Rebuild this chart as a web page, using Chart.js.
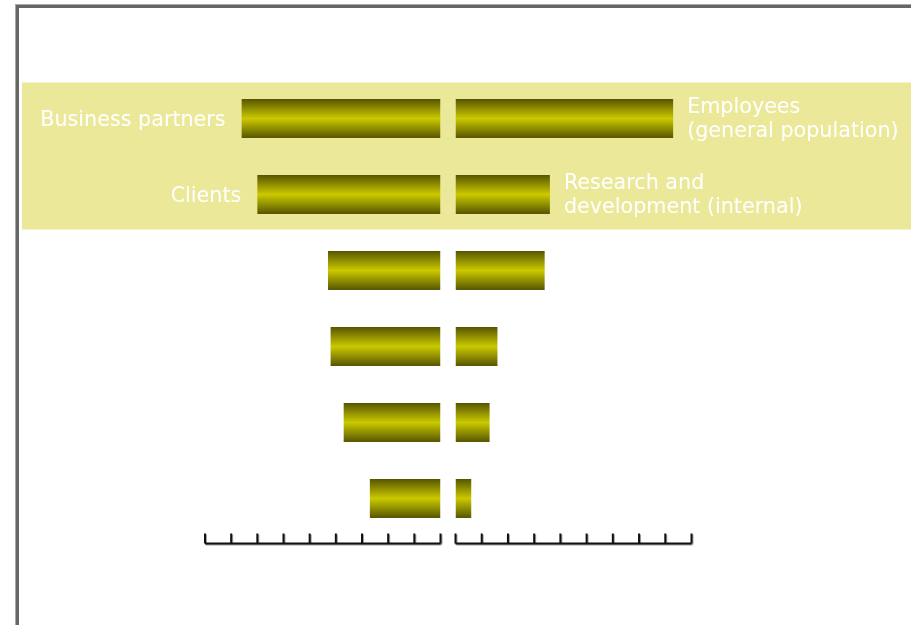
<!DOCTYPE html>
<html>
<head>
<meta charset="utf-8">
<title>Butterfly bars</title>
<script src="https://cdn.jsdelivr.net/npm/chart.js@4.4.1/dist/chart.umd.min.js"></script>
<style>
  html, body { margin: 0; padding: 0; background: #fff; }
  body { width: 911px; height: 625px; position: relative; overflow: hidden; }
  #frame {
    position: absolute; left: 16px; top: 5px; width: 1000px; height: 1000px;
    border-left: 3px solid #666; border-top: 3px solid #666;
    box-shadow: -1px -1px 0 #a8a8a8;
  }
  canvas { position: absolute; left: 0; top: 0; }
</style>
</head>
<body>
<div id="frame"></div>
<canvas id="leftChart" width="911" height="625"></canvas>
<canvas id="rightChart" width="911" height="625"></canvas>
<script>
  // Categories (one per row) and their labels on each side
  const rows = ['r1', 'r2', 'r3', 'r4', 'r5', 'r6'];
  const leftLabels = ['Business partners', 'Clients', '', '', '', ''];
  const rightLabels = [['Employees', '(general population)'], ['Research and', 'development (internal)'], '', '', '', ''];

  // Bar values
  const leftValues = [76, 70, 43, 42, 37, 27];
  const rightValues = [83, 36, 34, 16, 13, 6];

  // Axis range and ruler step
  const axisMax = 90;
  const axisStep = 10;

  // Rows that sit on the highlighted band
  const highlightRows = [0, 1];

  const FONT = '20.7px "DejaVu Sans", Verdana, sans-serif';

  // Olive bar with a bright stripe through the middle
  function barGradient(c) {
    const chart = c.chart;
    if (!chart.chartArea) return '#a09e00';
    const y = chart.scales.y;
    const center = y.getPixelForValue(c.dataIndex);
    const half = (chart.chartArea.bottom - chart.chartArea.top) / rows.length / 4;
    const g = chart.ctx.createLinearGradient(0, center - half, 0, center + half);
    g.addColorStop(0, '#5a5800');
    g.addColorStop(0.5, '#cbc900');
    g.addColorStop(1, '#5a5800');
    return g;
  }

  // Pale band behind the top rows
  const bandPlugin = {
    id: 'band',
    beforeDraw(chart) {
      const ctx = chart.ctx;
      const y = chart.scales.y;
      const step = (chart.chartArea.bottom - chart.chartArea.top) / rows.length;
      const top = y.getPixelForValue(highlightRows[0]) - step / 2 + 2;
      const bottom = y.getPixelForValue(highlightRows[highlightRows.length - 1]) + step / 2 - 3;
      ctx.save();
      ctx.fillStyle = '#ebe999';
      ctx.fillRect(22, top, chart.width - 22, bottom - top);
      ctx.restore();
    }
  };

  // Ruler under the bars, ticks pointing up
  const rulerPlugin = {
    id: 'ruler',
    afterDraw(chart) {
      const ctx = chart.ctx;
      const x = chart.scales.x;
      const base = chart.chartArea.bottom + 7;
      const x0 = x.getPixelForValue(0);
      const x1 = x.getPixelForValue(axisMax);
      const draw = (color, dx, dy) => {
        ctx.strokeStyle = color;
        ctx.lineWidth = 2;
        ctx.beginPath();
        ctx.moveTo(Math.min(x0, x1) + dx, base + dy);
        ctx.lineTo(Math.max(x0, x1) + dx, base + dy);
        x.ticks.forEach(t => {
          const px = x.getPixelForValue(t.value);
          ctx.moveTo(px + dx, base + dy);
          ctx.lineTo(px + dx, base - 10 + dy);
        });
        ctx.stroke();
      };
      ctx.save();
      draw('#a0a0a0', 1, 1);
      draw('#111', 0, 0);
      ctx.restore();
    }
  };

  // Row labels placed just past each bar's outer end
  const labelPlugin = {
    id: 'rowLabels',
    afterDatasetsDraw(chart, args, opts) {
      const ctx = chart.ctx;
      const x = chart.scales.x;
      const y = chart.scales.y;
      const values = chart.data.datasets[0].data;
      ctx.save();
      ctx.font = FONT;
      ctx.fillStyle = '#fff';
      ctx.textBaseline = 'middle';
      ctx.textAlign = opts.side === 'left' ? 'right' : 'left';
      opts.labels.forEach((label, i) => {
        if (!label || label.length === 0) return;
        const lines = Array.isArray(label) ? label : [label];
        const end = x.getPixelForValue(values[i]);
        const tx = opts.side === 'left' ? end - 16 : end + 14;
        const cy = y.getPixelForValue(i) + (lines.length === 1 ? 2 : 1);
        const lh = 24;
        lines.forEach((line, k) => {
          ctx.fillText(line, tx, cy + (k - (lines.length - 1) / 2) * lh);
        });
      });
      ctx.restore();
    }
  };

  function makeChart(id, values, labels, side, padding, plugins) {
    return new Chart(document.getElementById(id), {
      type: 'bar',
      data: {
        labels: rows,
        datasets: [{
          data: values,
          backgroundColor: barGradient,
          borderWidth: 0,
          barPercentage: 0.51,
          categoryPercentage: 1.0
        }]
      },
      options: {
        indexAxis: 'y',
        responsive: false,
        animation: false,
        layout: { padding: padding },
        plugins: {
          legend: { display: false },
          tooltip: { enabled: false },
          rowLabels: { labels: labels, side: side }
        },
        scales: {
          x: {
            display: false,
            min: 0,
            max: axisMax,
            reverse: side === 'left',
            ticks: { stepSize: axisStep }
          },
          y: { display: false }
        }
      },
      plugins: plugins
    });
  }

  makeChart('leftChart', leftValues, leftLabels, 'left',
    { left: 205, right: 911 - 440.5, top: 80.5, bottom: 625 - 536.5 },
    [bandPlugin, rulerPlugin, labelPlugin]);

  makeChart('rightChart', rightValues, rightLabels, 'right',
    { left: 455.5, right: 911 - 691.5, top: 80.5, bottom: 625 - 536.5 },
    [rulerPlugin, labelPlugin]);
</script>
</body>
</html>
